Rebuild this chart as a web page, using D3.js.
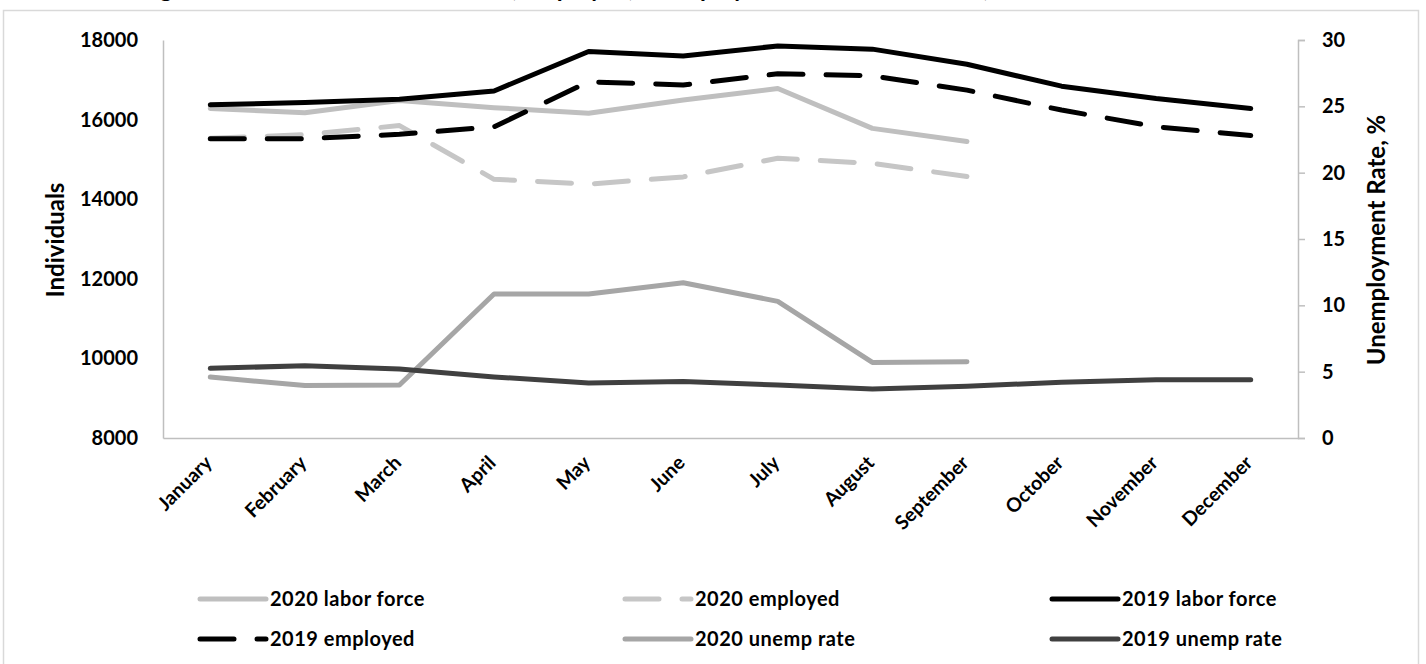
<!DOCTYPE html>
<html>
<head>
<meta charset="utf-8">
<script src="https://cdn.jsdelivr.net/npm/d3@7"></script>
<style>
  body { margin: 0; background: #fff; }
  svg text { font-family: Lato, "Open Sans", sans-serif; font-weight: bold; fill: #000; }
</style>
</head>
<body>
<svg></svg>
<script>
const months = ['January', 'February', 'March', 'April', 'May', 'June', 'July',
  'August', 'September', 'October', 'November', 'December'];

// individuals (left axis)
const labor2020 = [16280, 16170, 16480, 16300, 16160, 16490, 16780, 15780, 15450];
const employed2020 = [15530, 15620, 15850, 14500, 14380, 14560, 15030, 14900, 14570];
const labor2019 = [16370, 16430, 16510, 16720, 17710, 17600, 17850, 17770, 17390, 16840, 16530, 16280];
const employed2019 = [15520, 15520, 15630, 15820, 16950, 16870, 17150, 17100, 16740, 16240, 15820, 15600];

// unemployment rate, % (right axis)
const unemp2020 = [4.6, 3.95, 4.0, 10.85, 10.85, 11.7, 10.3, 5.7, 5.75];
const unemp2019 = [5.25, 5.45, 5.2, 4.6, 4.15, 4.25, 4.0, 3.7, 3.9, 4.2, 4.4, 4.4];

const leftTicks = [8000, 10000, 12000, 14000, 16000, 18000];
const rightTicks = [0, 5, 10, 15, 20, 25, 30];

const series = [
  { name: '2020 labor force', values: labor2020, axis: 'left', color: '#bfbfbf', dash: null },
  { name: '2020 employed', values: employed2020, axis: 'left', color: '#c6c6c6', dash: '34,23' },
  { name: '2019 labor force', values: labor2019, axis: 'left', color: '#000000', dash: null },
  { name: '2019 employed', values: employed2019, axis: 'left', color: '#000000', dash: '34,23' },
  { name: '2020 unemp rate', values: unemp2020, axis: 'right', color: '#a6a6a6', dash: null },
  { name: '2019 unemp rate', values: unemp2019, axis: 'right', color: '#404040', dash: null }
];

const width = 1426;
const height = 664;
const plot = { left: 163, right: 1298, top: 40, bottom: 438 };

const svg = d3.select('svg')
  .attr('width', width)
  .attr('height', height);

// outer chart frame
svg.append('rect')
  .attr('x', 3.5).attr('y', 10.5)
  .attr('width', 1415).attr('height', 670)
  .attr('fill', 'none')
  .attr('stroke', '#d9d9d9')
  .attr('stroke-width', 1.5);

// title, cut off at the top edge in the source picture
svg.append('text')
  .attr('x', 140)
  .attr('y', -3)
  .style('font-size', '24px')
  .text('Figure 2. Number in the labor force, employed, unemployed and the overall rate, 2019 vs 2020');

const xScale = d3.scaleBand()
  .domain(months)
  .range([plot.left, plot.right]);

const yLeft = d3.scaleLinear()
  .domain([8000, 18000])
  .range([plot.bottom, plot.top]);

const yRight = d3.scaleLinear()
  .domain([0, 30])
  .range([plot.bottom, plot.top]);

// left axis
const gLeft = svg.append('g')
  .attr('transform', `translate(${plot.left}, 0)`)
  .call(d3.axisLeft(yLeft).tickValues(leftTicks).tickSize(0).tickPadding(25).tickFormat(d3.format('d')));
gLeft.select('.domain').attr('stroke', '#bfbfbf').attr('stroke-width', 1.5);
gLeft.selectAll('text').style('font-size', '20px').style('font-family', 'Lato, sans-serif');

// right axis
const gRight = svg.append('g')
  .attr('transform', `translate(${plot.right}, 0)`)
  .call(d3.axisRight(yRight).tickValues(rightTicks).tickSizeInner(7).tickSizeOuter(7).tickPadding(17));
gRight.select('.domain').attr('stroke', '#bfbfbf').attr('stroke-width', 1.5);
gRight.selectAll('.tick line').attr('stroke', '#bfbfbf').attr('stroke-width', 1.5);
gRight.selectAll('text').style('font-size', '20px').style('font-family', 'Lato, sans-serif');

// bottom axis
const gBottom = svg.append('g')
  .attr('transform', `translate(0, ${plot.bottom})`)
  .call(d3.axisBottom(xScale).tickSize(0).tickFormat(''));
gBottom.select('.domain').attr('stroke', '#bfbfbf').attr('stroke-width', 1.5);

svg.append('g')
  .selectAll('text')
  .data(months)
  .enter()
  .append('text')
  .attr('transform', m => `translate(${xScale(m) + xScale.bandwidth() / 2 + 3}, ${plot.bottom + 26}) rotate(-45)`)
  .attr('text-anchor', 'end')
  .style('font-size', '19.5px')
  .text(m => m);

// axis titles
svg.append('text')
  .attr('transform', `translate(64, 240) rotate(-90)`)
  .attr('text-anchor', 'middle')
  .style('font-size', '24px')
  .text('Individuals');

svg.append('text')
  .attr('transform', `translate(1385, 240) rotate(-90)`)
  .attr('text-anchor', 'middle')
  .style('font-size', '24px')
  .text('Unemployment Rate, %');

// lines
const lines = svg.append('g');
series.forEach(s => {
  const y = s.axis === 'left' ? yLeft : yRight;
  const line = d3.line()
    .x((d, i) => xScale(months[i]) + xScale.bandwidth() / 2)
    .y(d => y(d));
  lines.append('path')
    .datum(s.values)
    .attr('d', line)
    .attr('fill', 'none')
    .attr('stroke', s.color)
    .attr('stroke-width', 5)
    .attr('stroke-linejoin', 'round')
    .attr('stroke-linecap', 'round')
    .attr('stroke-dasharray', s.dash);
});

// legend
const legendCols = [200, 625, 1052];
const legendRows = [599, 639];
const keyLen = 66;
const legend = svg.append('g');
series.forEach((s, i) => {
  const lx = legendCols[i % 3];
  const ly = legendRows[Math.floor(i / 3)];
  legend.append('path')
    .attr('d', `M${lx},${ly} L${lx + keyLen},${ly}`)
    .attr('stroke', s.color)
    .attr('stroke-width', 5)
    .attr('stroke-linecap', 'round')
    .attr('stroke-dasharray', s.dash);
  legend.append('text')
    .attr('x', lx + keyLen + 4)
    .attr('y', ly + 7)
    .style('font-size', '20px')
    .style('letter-spacing', '0.5px')
    .text(s.name);
});
</script>
</body>
</html>
